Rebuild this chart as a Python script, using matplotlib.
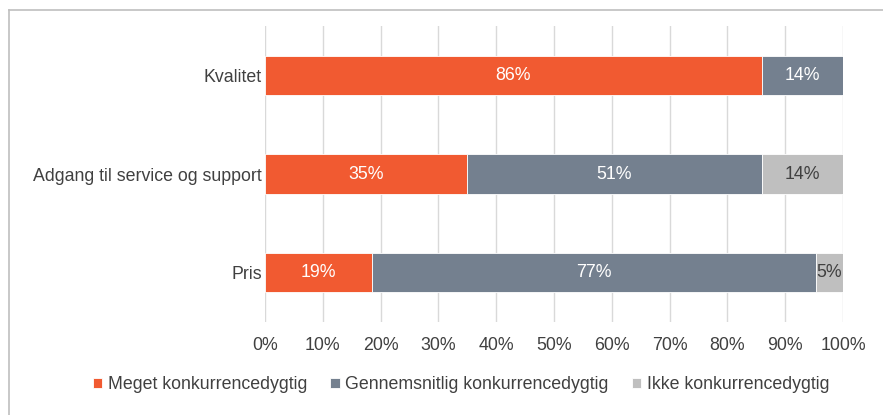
import matplotlib.pyplot as plt
import numpy as np
from matplotlib.lines import Line2D

categories = ["Kvalitet", "Adgang til service og support", "Pris"]
series_names = ["Meget konkurrencedygtig", "Gennemsnitlig konkurrencedygtig", "Ikke konkurrencedygtig"]
meget = [86.0, 34.9, 18.5]
gennemsnit = [14.0, 51.1, 76.8]
ikke = [0.0, 14.0, 4.7]
labels_meget = ["86%", "35%", "19%"]
labels_gennemsnit = ["14%", "51%", "77%"]
labels_ikke = ["", "14%", "5%"]

colors = ["#F15A31", "#74808F", "#BFBFBF"]
text_colors = ["white", "white", "#404040"]
txt = "#404040"
fs = 12.8

plt.rcParams['font.family'] = ['Liberation Sans', 'DejaVu Sans']

fig = plt.figure(figsize=(8.83, 4.15), dpi=100)
ax = fig.add_axes([0.300, 0.224, 0.6547, 0.713])

y = np.arange(len(categories))
left = np.zeros(len(categories))
series = [meget, gennemsnit, ikke]
labels = [labels_meget, labels_gennemsnit, labels_ikke]
for vals, labs, c, tc, name in zip(series, labels, colors, text_colors, series_names):
    vals = np.array(vals)
    ax.barh(y, vals, left=left, height=0.4, color=c, edgecolor="white",
            linewidth=0.6, label=name, zorder=3)
    for yi, l, v, lab in zip(y, left, vals, labs):
        if lab:
            ax.text(l + v / 2, yi, lab, ha="center", va="center",
                    color=tc, fontsize=fs, zorder=4)
    left = left + vals

ax.set_xlim(0, 100)
ax.set_ylim(2.5, -0.5)
ax.set_yticks(y)
ax.set_yticklabels(categories, fontsize=fs, color=txt)
ax.set_xticks(np.arange(0, 101, 10))
ax.set_xticklabels([f"{t}%" for t in range(0, 101, 10)], fontsize=fs, color=txt)
ax.tick_params(length=0, pad=11)
ax.tick_params(axis="y", pad=2)
ax.grid(axis="x", color="#D9D9D9", linewidth=1, zorder=0)
for s in ax.spines.values():
    s.set_visible(False)

handles, hl = ax.get_legend_handles_labels()
fig.legend(handles, hl, loc="center", bbox_to_anchor=(0.522, 0.073), ncol=3,
           frameon=False, fontsize=fs, labelcolor=txt, handlelength=0.55,
           handleheight=0.55, handletextpad=0.3, columnspacing=1.3)

fig.add_artist(Line2D([0.0102, 0.0102], [0, 0.976], color="#BFBFBF", lw=1.2))
fig.add_artist(Line2D([0.0102, 1], [0.976, 0.976], color="#BFBFBF", lw=1.2))

fig.savefig("out.png", dpi=100)
